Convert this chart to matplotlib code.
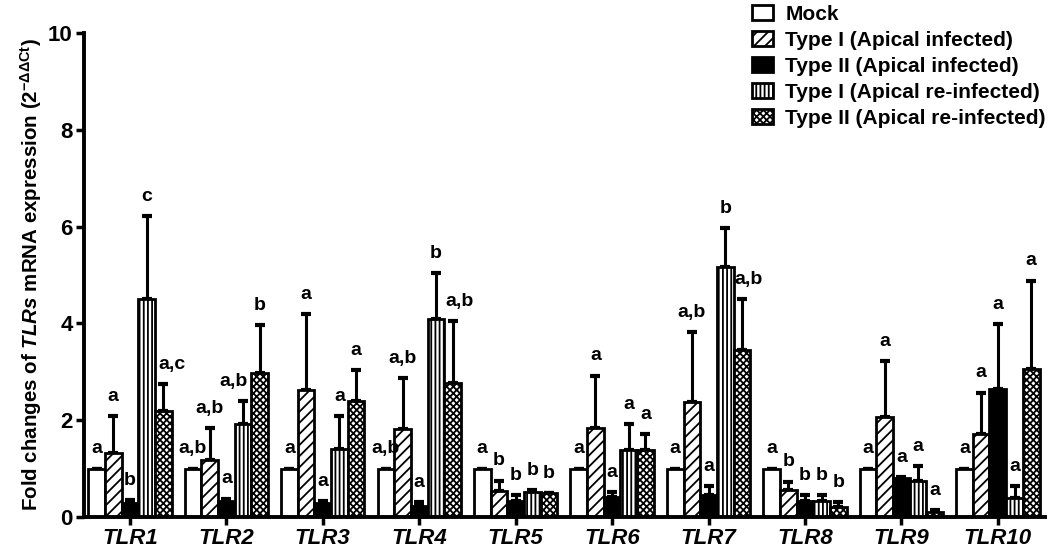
import numpy as np
import matplotlib
matplotlib.use("Agg")
import matplotlib.pyplot as plt
from matplotlib.patches import Patch

plt.rcParams['font.family'] = ['Liberation Sans', 'DejaVu Sans']
plt.rcParams['font.weight'] = 'bold'
plt.rcParams['mathtext.fontset'] = 'custom'
plt.rcParams['mathtext.rm'] = 'Liberation Sans'
plt.rcParams['mathtext.it'] = 'Liberation Sans:bold:italic'
plt.rcParams['mathtext.bf'] = 'Liberation Sans:bold'
plt.rcParams['hatch.linewidth'] = 1.3

genes = ['TLR1', 'TLR2', 'TLR3', 'TLR4', 'TLR5', 'TLR6', 'TLR7', 'TLR8', 'TLR9', 'TLR10']
groups = ['Mock', 'Type I (Apical infected)', 'Type II (Apical infected)',
          'Type I (Apical re-infected)', 'Type II (Apical re-infected)']

# mean fold change per group (rows) and gene (columns)
mock       = [1.00, 1.00, 1.00, 1.00, 1.00, 1.00, 1.00, 1.00, 1.00, 1.00]
type1_inf  = [1.33, 1.18, 2.62, 1.82, 0.53, 1.84, 2.37, 0.56, 2.06, 1.72]
type2_inf  = [0.28, 0.33, 0.28, 0.22, 0.32, 0.42, 0.45, 0.33, 0.80, 2.64]
type1_re   = [4.50, 1.92, 1.40, 4.10, 0.52, 1.38, 5.17, 0.33, 0.74, 0.39]
type2_re   = [2.19, 2.97, 2.39, 2.77, 0.49, 1.38, 3.45, 0.21, 0.10, 3.06]

# top of the error bar (mean + SD)
mock_top      = [1.00, 1.00, 1.00, 1.00, 1.00, 1.00, 1.00, 1.00, 1.00, 1.00]
type1_inf_top = [2.09, 1.84, 4.19, 2.87, 0.75, 2.92, 3.82, 0.73, 3.22, 2.57]
type2_inf_top = [0.35, 0.38, 0.32, 0.31, 0.45, 0.52, 0.63, 0.45, 0.82, 3.99]
type1_re_top  = [6.22, 2.40, 2.09, 5.03, 0.55, 1.92, 5.97, 0.45, 1.05, 0.63]
type2_re_top  = [2.75, 3.97, 3.04, 4.05, 0.50, 1.71, 4.50, 0.31, 0.14, 4.88]

# significance letters
mock_sig      = ['a', 'a,b', 'a', 'a,b', 'a', 'a', 'a', 'a', 'a', 'a']
type1_inf_sig = ['a', 'a,b', 'a', 'a,b', 'b', 'a', 'a,b', 'b', 'a', 'a']
type2_inf_sig = ['b', 'a', 'a', 'a', 'b', 'a', 'a', 'b', 'a', 'a']
type1_re_sig  = ['c', 'a,b', 'a', 'b', 'b', 'a', 'b', 'b', 'a', 'a']
type2_re_sig  = ['a,c', 'b', 'a', 'a,b', 'b', 'a', 'a,b', 'b', 'a', 'a']

means = [mock, type1_inf, type2_inf, type1_re, type2_re]
tops = [mock_top, type1_inf_top, type2_inf_top, type1_re_top, type2_re_top]
sigs = [mock_sig, type1_inf_sig, type2_inf_sig, type1_re_sig, type2_re_sig]

styles = [dict(color='white', hatch=''),
          dict(color='white', hatch='///'),
          dict(color='black', hatch=''),
          dict(color='white', hatch='||||'),
          dict(color='white', hatch='xxxxx')]

# nudge a few letters sideways so they clear the neighbouring bar
nudge = {(3, 1): -7, (4, 0): 6, (4, 3): 5, (4, 6): 5}

fig = plt.figure(figsize=(10.49, 5.48), dpi=100)
ax = fig.add_axes([0.080, 0.0566, 0.916, 0.8834])

x = np.arange(len(genes))
w = 0.173
for i in range(5):
    pos = x + (i - 2) * w
    m = np.array(means[i])
    t = np.array(tops[i])
    ax.errorbar(pos, m, yerr=[np.zeros_like(m), t - m], fmt='none',
                ecolor='black', elinewidth=2.2, capsize=3.5, capthick=3, zorder=1)
    ax.bar(pos, m, w, color=styles[i]['color'], hatch=styles[i]['hatch'],
           edgecolor='black', linewidth=2, zorder=2)
    for j, (p, top, s) in enumerate(zip(pos, np.maximum(t, m), sigs[i])):
        ax.annotate(s, (p, top), xytext=(nudge.get((i, j), 0), 11),
                    textcoords='offset points', ha='center', va='baseline',
                    fontsize=14, fontweight='bold', zorder=5)

ax.set_xlim(-0.477, 9.487)
ax.set_ylim(0, 10)
ax.set_yticks([0, 2, 4, 6, 8, 10])
ax.set_xticks(x)
ax.set_xticklabels(genes, fontsize=16, fontstyle='italic', fontweight='bold')
ax.tick_params(axis='y', labelsize=16, width=2.5, length=6, pad=2)
ax.tick_params(axis='x', width=2.5, length=6, pad=2)
for lab in ax.get_yticklabels():
    lab.set_fontweight('bold')

for side in ['top', 'right']:
    ax.spines[side].set_visible(False)
for side in ['left', 'bottom']:
    ax.spines[side].set_linewidth(2.8)

ax.set_ylabel(r'Fold changes of $\mathit{TLRs}$ mRNA expression (2$^{-\Delta\Delta \mathrm{Ct}}$)',
              fontsize=14.8, fontweight='bold', labelpad=3)

handles = [Patch(facecolor=styles[i]['color'], hatch=styles[i]['hatch'],
                 edgecolor='black', linewidth=2) for i in range(5)]
leg = fig.legend(handles, groups, loc='upper left', bbox_to_anchor=(752 / 1049, 1 - 5 / 548),
                 frameon=False, borderaxespad=0, borderpad=0, handlelength=1.0,
                 handleheight=0.75, handletextpad=0.6, labelspacing=0.33,
                 prop={'size': 15, 'weight': 'bold'})

fig.savefig('out.png', dpi=100)
